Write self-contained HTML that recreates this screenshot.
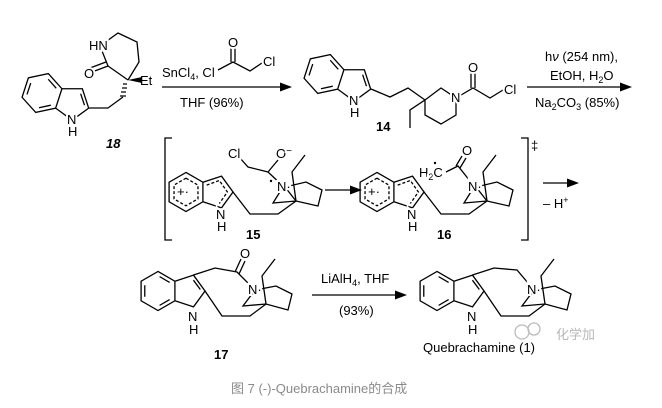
<!DOCTYPE html>
<html><head><meta charset="utf-8">
<style>
html,body{margin:0;padding:0;background:#fff;}
svg{display:block;}
text{font-family:"Liberation Sans","Noto Sans CJK SC",sans-serif;font-size:13px;fill:#000;}
.lb{stroke:#fff;stroke-width:4;paint-order:stroke;}
.b{font-weight:bold;}
</style></head><body>
<svg width="662" height="408" viewBox="0 0 662 408" xmlns="http://www.w3.org/2000/svg">
<defs>
<g id="ind" fill="none" stroke="#000" stroke-width="1.3">
<path vector-effect="non-scaling-stroke" d="M0,-17 L14.7,-8.5 L14.7,8.5 L0,17 L-14.7,8.5 L-14.7,-8.5Z M14.7,-8.5 L30.9,-13.75 L40.9,0 L30.9,13.75 L14.7,8.5"/>
<path vector-effect="non-scaling-stroke" d="M1.4,-12.5 L10.1,-7.4 M10.1,7.4 L1.4,12.5 M-11.5,5 L-11.5,-5 M30.8,-9.4 L36.8,-1.3"/>
</g>
<g id="indd" fill="none" stroke="#000" stroke-width="1.3">
<path vector-effect="non-scaling-stroke" d="M0,-17 L14.7,-8.5 L14.7,8.5 L0,17 L-14.7,8.5 L-14.7,-8.5Z M14.7,-8.5 L30.9,-13.75 L40.9,0 L30.9,13.75 L14.7,8.5"/>
<path vector-effect="non-scaling-stroke" stroke-dasharray="3,2" d="M0,-12 L10.4,-6 L10.4,6 L0,12 L-10.4,6 L-10.4,-6Z M18,-6 L29,-10 L36,0 L29,10"/>
</g>
</defs>
<g fill="none" stroke="#000" stroke-width="1.3">
<!-- 18 -->
<use href="#ind" transform="translate(42,93) rotate(18) scale(1.2)"/>
<path d="M89,108 L108,108 L123,97"/>
<path d="M128,80 L108,66 L100,46 L118,33 L137,42 L139,62 L128,80"/>
<path d="M108,66 L92,72 M106,62 L90,68"/>
<path d="M127,84 L123,84 M127,88 L122,88 M126,92 L121,92 M126,96 L120,96"/>
<!-- arrow 1 -->
<path d="M162,87 L286,87"/>
<path d="M218,70 L233,62 L250,71 L262,63 M231,62 L231,47 M235,62 L235,47"/>
<!-- 14 -->
<use href="#ind" transform="translate(324,74) rotate(18) scale(1.2)"/>
<path d="M371,89 L390,97 L408,88 L425,100 L441,88 L456,98 L456,115 L441,124 L425,115 L425,100 L410,110 L410,128"/>
<path d="M456,98 L473,88 L490,98 L503,90 M471,88 L471,71 M475,88 L475,71"/>
<path d="M527,87 L624,87"/>
<!-- brackets -->
<path d="M172,138 H165 V240 H172 M521,138 H528 V240 H521"/>
<!-- 15 -->
<use href="#indd" transform="translate(186,192) scale(1.15)"/>
<path d="M233,192 L250,214 L278,214 L296,201 L285,187 L306,182 L322,190 L318,206 L296,201 L273,203 L283,187 M296,201 L292,172 L305,155"/>
<path d="M283,186 L268,172 L248,167 L240,158 M268,172 L278,160"/>
<path d="M325,190 L355,190"/>
<!-- 16 -->
<use href="#indd" transform="translate(377,192) scale(1.15)"/>
<path d="M424,192 L441,214 L469,214 L487,201 L476,187 L497,182 L513,190 L509,206 L487,201 L464,203 L474,187 M487,201 L483,172 L496,155"/>
<path d="M446,172 L458,166 L474,186 M456,166 L462,156 M460,168 L466,158"/>
<path d="M543,183 L572,183"/>
<!-- 17 -->
<use href="#ind" transform="translate(158,291) scale(1.15)"/>
<path d="M193.5,275 L215,268 L237,272 L255,290 L276,286 L292,294 L288,310 L266,304 L243,306 L255,290 M266,304 L262,276 L275,259"/>
<path d="M205,291 L222,316 L250,316 L266,304 M235,272 L241,259 M239,274 L245,261"/>
<path d="M312,295 L400,295"/>
<!-- Q -->
<use href="#ind" transform="translate(437,291) scale(1.15)"/>
<path d="M472.5,275 L494,268 L517,270 L534,290 L555,286 L571,294 L567,310 L545,304 L522,306 L534,290 M545,304 L541,276 L554,259"/>
<path d="M484,291 L501,316 L529,316 L545,304"/>
</g>
<g fill="#000">
<polygon points="292,87 280,82.5 280,91.5"/>
<polygon points="632,87 620,82.5 620,91.5"/>
<polygon points="362,190 350,185.5 350,194.5"/>
<polygon points="579,183 567,178.5 567,187.5"/>
<polygon points="407,295 395,290.5 395,299.5"/>
<polygon points="128,80 142,77 142,83"/>
<circle cx="271" cy="181" r="1.2"/><circle cx="435" cy="163" r="1.2"/>
</g>
<!-- labels -->
<text class="lb" x="89" y="50">HN</text>
<text class="lb" x="84" y="78">O</text>
<text x="140" y="85">Et</text>
<text class="lb" x="67" y="124">N</text><text x="68" y="136">H</text>
<text x="106" y="148" class="b" font-style="italic">18</text>
<text x="162" y="77">SnCl<tspan font-size="9" dy="3">4</tspan><tspan dy="-3">, Cl</tspan></text>
<text class="lb" x="228" y="47">O</text>
<text class="lb" x="263" y="66">Cl</text>
<text x="180" y="107">THF (96%)</text>
<text class="lb" x="349" y="105">N</text><text x="350" y="117">H</text>
<text class="lb" x="451" y="102">N</text>
<text class="lb" x="468" y="72">O</text>
<text class="lb" x="504" y="94">Cl</text>
<text x="376" y="131" class="b">14</text>
<text x="545" y="61">h<tspan font-style="italic">ν</tspan> (254 nm),</text>
<text x="550" y="80">EtOH, H<tspan font-size="9" dy="3">2</tspan><tspan dy="-3">O</tspan></text>
<text x="535" y="107">Na<tspan font-size="9" dy="3">2</tspan><tspan dy="-3">CO</tspan><tspan font-size="9" dy="3">3</tspan><tspan dy="-3"> (85%)</tspan></text>
<text x="531" y="150">‡</text>
<!-- 15 labels -->
<text x="177" y="196" font-size="12">+·</text>
<text class="lb" x="216" y="219">N</text><text x="217" y="231">H</text>
<text x="246" y="239" class="b">15</text>
<text class="lb" x="277" y="191">N·</text>
<text class="lb" x="228" y="158">Cl</text>
<text class="lb" x="276" y="158">O<tspan font-size="10" dy="-4">−</tspan></text>
<!-- 16 labels -->
<text x="368" y="196" font-size="12">+·</text>
<text class="lb" x="407" y="219">N</text><text x="408" y="231">H</text>
<text x="437" y="239" class="b">16</text>
<text class="lb" x="468" y="191">N·</text>
<text class="lb" x="419" y="177">H<tspan font-size="9" dy="3">2</tspan><tspan dy="-3">C</tspan></text>
<text class="lb" x="462" y="155">O</text>
<text x="543" y="208">– H<tspan font-size="9" dy="-5">+</tspan></text>
<!-- 17 labels -->
<text class="lb" x="188" y="321">N</text><text x="189" y="334">H</text>
<text x="214" y="359" class="b">17</text>
<text class="lb" x="248" y="294">N·</text>
<text class="lb" x="240" y="258">O</text>
<text x="321" y="283">LiAlH<tspan font-size="9" dy="3">4</tspan><tspan dy="-3">, THF</tspan></text>
<text x="339" y="315">(93%)</text>
<!-- Q labels -->
<text class="lb" x="467" y="321">N</text><text x="468" y="334">H</text>
<text class="lb" x="527" y="294">N·</text>
<text x="423" y="352" font-size="14">Quebrachamine (1)</text>
<g fill="none" stroke="#bbb" stroke-width="1.3"><circle cx="522" cy="332" r="7"/><circle cx="534" cy="329" r="6"/></g>
<text x="556" y="339" font-size="21" style="fill:#b8b8b8">化学加</text>
<text x="231" y="393" style="fill:#8a8a8a" font-size="13">图 7 (-)-Quebrachamine的合成</text>
</svg>
</body></html>
